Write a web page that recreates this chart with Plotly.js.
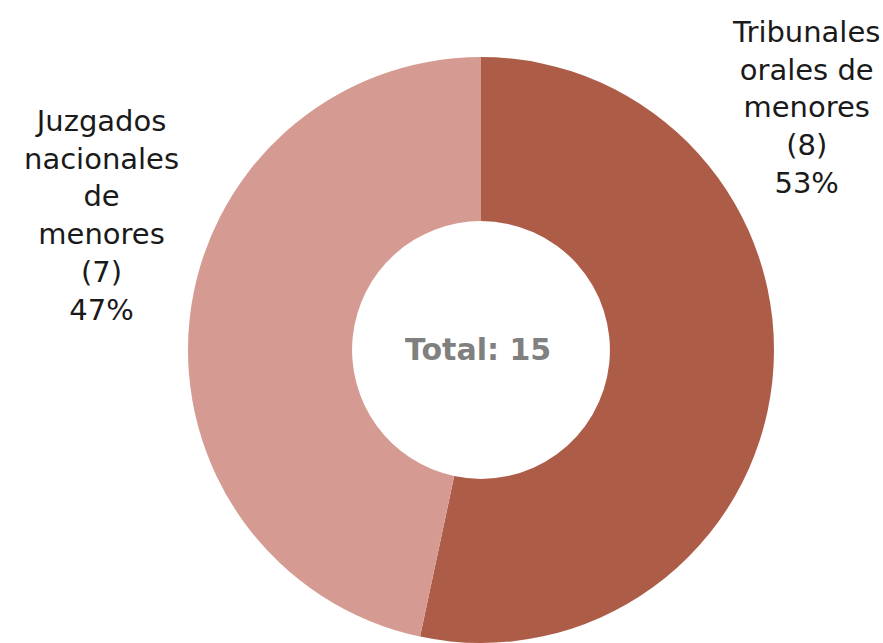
<!DOCTYPE html>
<html>
<head>
<meta charset="utf-8">
<script src="https://cdn.plot.ly/plotly-3.0.1.min.js"></script>
<style>html,body{margin:0;padding:0;background:#fff;}#chart{width:883px;height:643px;}</style>
</head>
<body>
<div id="chart"></div>
<script>
const categories = ["Tribunales orales de menores", "Juzgados nacionales de menores"];
const labelLines = [["Tribunales", "orales de", "menores"], ["Juzgados", "nacionales", "de", "menores"]];
const values = [8, 7];
const colors = ["#AD5D47", "#D59B93"];

const total = values.reduce((a, b) => a + b, 0);
const pct = values.map(v => Math.round(100 * v / total) + "%");

const labelPos = [{x: 806, y: 108}, {x: 101, y: 215}];
const fontFam = "DejaVu Sans, sans-serif";

const annotations = [];
categories.forEach((c, i) => {
  const txt = labelLines[i].concat(["(" + values[i] + ")", pct[i]]).join("<br>");
  annotations.push({
    text: txt, x: labelPos[i].x / 883, y: 1 - labelPos[i].y / 643,
    xref: "paper", yref: "paper", showarrow: false, align: "center",
    xanchor: "center", yanchor: "middle",
    font: {family: fontFam, size: 29, color: "#1a1a1a"}
  });
});
annotations.push({
  text: "<b>Total: " + total + "</b>", x: 478 / 883, y: 1 - 349 / 643,
  xref: "paper", yref: "paper", showarrow: false, xanchor: "center", yanchor: "middle",
  font: {family: fontFam, size: 30, color: "#808080"}
});

const data = [{
  type: "pie", labels: categories, values: values, hole: 0.44,
  sort: false, direction: "clockwise", rotation: 0,
  marker: {colors: colors, line: {width: 0}},
  textinfo: "none", hoverinfo: "none",
  domain: {x: [188 / 883, 774 / 883], y: [0, 586 / 643]}
}];

const layout = {
  width: 883, height: 643, margin: {l: 0, r: 0, t: 0, b: 0},
  paper_bgcolor: "#fff", plot_bgcolor: "#fff", showlegend: false,
  annotations: annotations
};
Plotly.newPlot("chart", data, layout, {displayModeBar: false, staticPlot: true});
</script>
</body>
</html>
